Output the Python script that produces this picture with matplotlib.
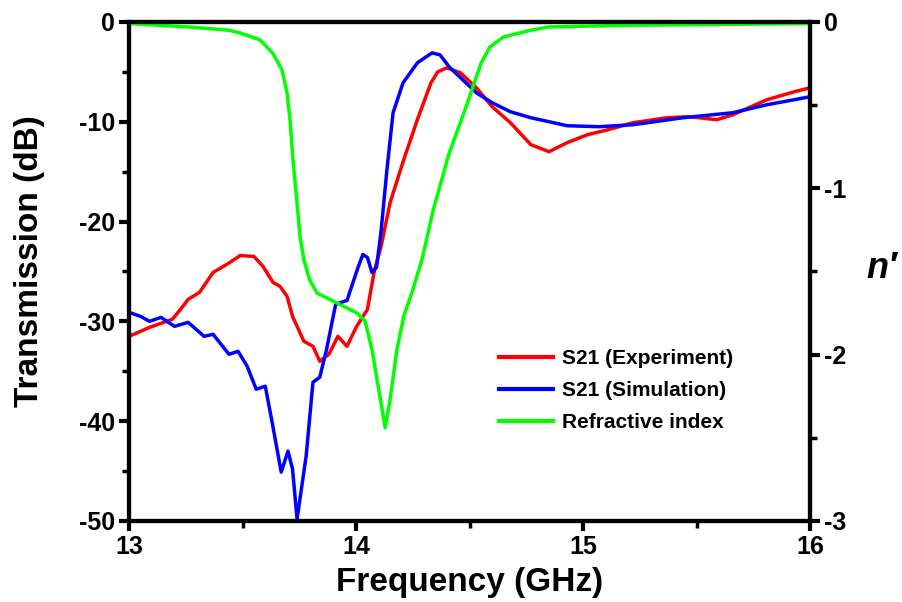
import matplotlib
matplotlib.use("Agg")
import matplotlib.pyplot as plt
from matplotlib.ticker import MultipleLocator

# Dados
freq_exp = [13.00, 13.05, 13.09, 13.14, 13.19, 13.23, 13.26, 13.31, 13.37, 13.43, 13.49, 13.55,
            13.59, 13.634, 13.665, 13.696, 13.72, 13.77, 13.81, 13.84, 13.88, 13.92, 13.96, 14.00,
            14.05, 14.08, 14.11, 14.15, 14.21, 14.27, 14.33, 14.36, 14.40, 14.46, 14.53, 14.60,
            14.68, 14.77, 14.85, 14.93, 15.02, 15.11, 15.22, 15.37, 15.47, 15.59, 15.66, 15.81,
            15.93, 16.00]
s21_exp = [-31.5, -31.0, -30.6, -30.2, -29.8, -28.7, -27.8, -27.1, -25.1, -24.3, -23.4, -23.5,
           -24.5, -26.1, -26.5, -27.5, -29.5, -32.0, -32.5, -34.0, -33.3, -31.5, -32.5, -30.6,
           -28.8, -25.0, -22.5, -18.1, -13.8, -9.8, -6.1, -5.0, -4.6, -5.1, -6.6, -8.5,
           -10.1, -12.3, -13.0, -12.1, -11.3, -10.8, -10.1, -9.6, -9.5, -9.8, -9.3, -7.8,
           -7.0, -6.6]

freq_sim = [13.00, 13.05, 13.09, 13.14, 13.20, 13.26, 13.33, 13.37, 13.44, 13.48, 13.52, 13.56,
            13.60, 13.63, 13.67, 13.70, 13.72, 13.74, 13.78, 13.81, 13.84, 13.87, 13.91, 13.96,
            14.01, 14.03, 14.05, 14.07, 14.09, 14.11, 14.136, 14.163, 14.207, 14.27, 14.335, 14.37,
            14.41, 14.47, 14.53, 14.60, 14.68, 14.77, 14.93, 15.07, 15.22, 15.44, 15.66, 15.81,
            16.00]
s21_sim = [-29.1, -29.5, -30.0, -29.6, -30.5, -30.1, -31.5, -31.3, -33.3, -33.0, -34.5, -36.8,
           -36.5, -40.1, -45.1, -43.0, -44.8, -49.8, -43.5, -36.1, -35.6, -32.8, -28.3, -27.9,
           -24.5, -23.3, -23.6, -25.1, -24.6, -21.0, -14.8, -9.1, -6.1, -4.1, -3.1, -3.3,
           -4.5, -5.8, -7.1, -8.1, -9.0, -9.6, -10.4, -10.5, -10.3, -9.6, -9.1, -8.3,
           -7.5]

freq_n = [13.00, 13.26, 13.44, 13.489, 13.577, 13.634, 13.674, 13.696, 13.709, 13.722, 13.740,
          13.753, 13.770, 13.795, 13.828, 13.916, 14.004, 14.04, 14.07, 14.10, 14.128, 14.15, 14.18,
          14.21, 14.25, 14.29, 14.34, 14.41, 14.49, 14.55, 14.59, 14.65, 14.77, 14.85, 15.22, 16.00]
n_real = [-0.01, -0.03, -0.05, -0.066, -0.108, -0.19, -0.29, -0.43, -0.59, -0.83, -1.09,
          -1.29, -1.43, -1.55, -1.63, -1.69, -1.75, -1.80, -1.97, -2.21, -2.44, -2.27, -1.97,
          -1.77, -1.61, -1.43, -1.13, -0.79, -0.49, -0.25, -0.15, -0.09, -0.05, -0.03, -0.02, -0.01]

plt.rcParams['font.family'] = ['Liberation Sans', 'DejaVu Sans']
plt.rcParams['font.weight'] = 'bold'
plt.rcParams['axes.unicode_minus'] = False

fig = plt.figure(figsize=(9.03, 6.02), dpi=100)
ax = fig.add_axes([0.143, 0.1346, 0.754, 0.829])
ax2 = ax.twinx()

l1, = ax.plot(freq_exp, s21_exp, color="#ff0000", lw=2.5, label="S21 (Experiment)")
l2, = ax.plot(freq_sim, s21_sim, color="#0000ff", lw=2.5, label="S21 (Simulation)")
l3, = ax2.plot(freq_n, n_real, color="#00ff00", lw=2.5, label="Refractive index")

ax.set_xlim(13, 16)
ax.set_ylim(-50, 0)
ax2.set_ylim(-3, 0)

ax.xaxis.set_major_locator(MultipleLocator(1))
ax.xaxis.set_minor_locator(MultipleLocator(0.5))
ax.yaxis.set_major_locator(MultipleLocator(10))
ax.yaxis.set_minor_locator(MultipleLocator(5))
ax2.yaxis.set_major_locator(MultipleLocator(1))
ax2.yaxis.set_minor_locator(MultipleLocator(0.5))

for a in (ax, ax2):
    for s in a.spines.values():
        s.set_linewidth(3)
    a.tick_params(which="major", direction="out", length=7, width=3, pad=3, labelsize=18)
    a.tick_params(which="minor", direction="out", length=5, width=2.5)

ax.set_xlabel("Frequency (GHz)", fontsize=24, fontweight="bold", labelpad=6)
ax.set_ylabel("Transmission (dB)", fontsize=24, fontweight="bold")
ax.yaxis.set_label_coords(-0.124, 0.52)
ax2.set_ylabel("n\u2032", fontsize=26, fontweight="bold", fontstyle="italic",
               rotation=0, va="center", ha="center")
ax2.yaxis.set_label_coords(1.105, 0.505)

leg = ax.legend(handles=[l1, l2, l3], loc="upper left", bbox_to_anchor=(0.528, 0.365),
                frameon=False, prop={"weight": "bold", "size": 15},
                handlelength=2.6, handletextpad=0.4, labelspacing=0.62, borderpad=0)
for h in leg.get_lines():
    h.set_linewidth(3)

fig.savefig("out.png", dpi=100)
